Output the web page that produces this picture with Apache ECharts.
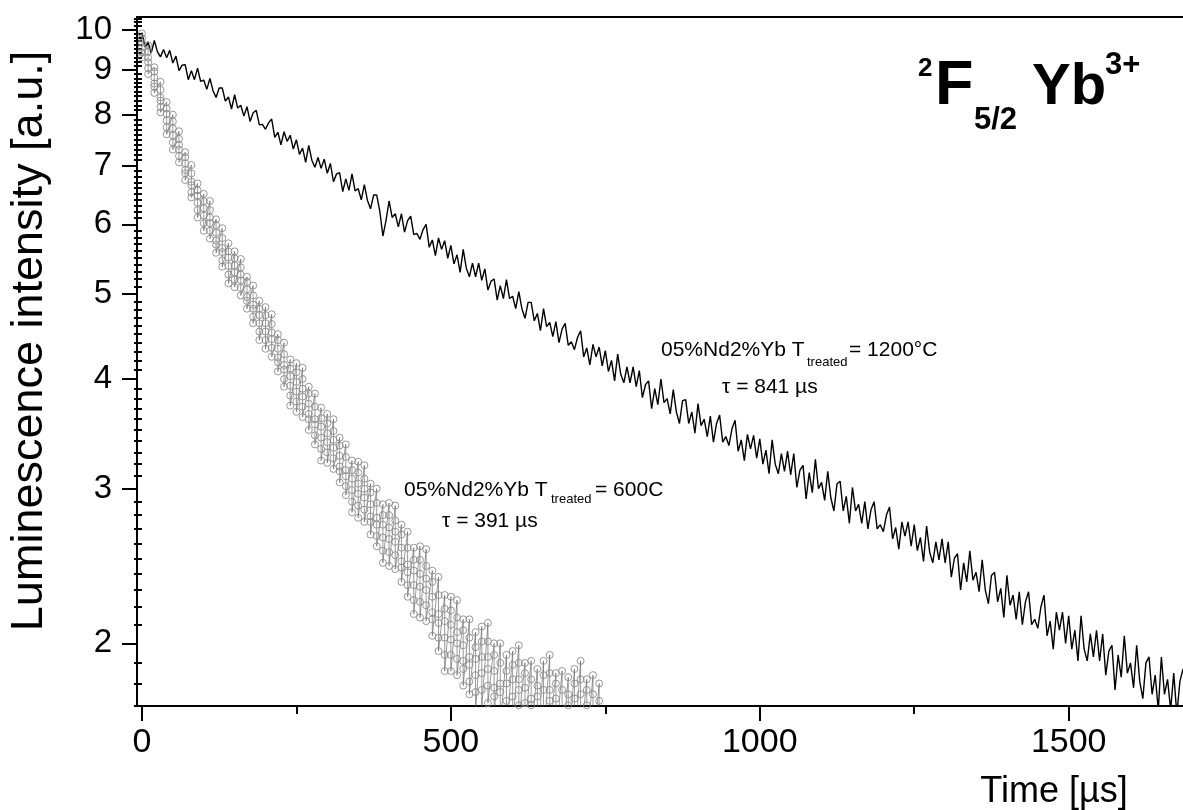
<!DOCTYPE html>
<html><head><meta charset="utf-8">
<script src="https://cdn.jsdelivr.net/npm/echarts@6/dist/echarts.min.js"></script>
<style>html,body{margin:0;padding:0;background:#fff}#c{width:1183px;height:810px}</style>
</head><body><div id="c"></div>
<script>
const FONT = "'Liberation Sans', Arial, Helvetica, sans-serif";

// axes
const xRange = [-8, 1685];
const yRange = [1.697, 10.336];
const xMajorTicks = [0, 500, 1000, 1500];
const xMinorTicks = [250, 750, 1250];
const yMajorTicks = [2, 3, 4, 5, 6, 7, 8, 9, 10];
const yMinorStep = 0.1;

// 1200 C sample, black line, one value every 5 us from t = 0
const line1200Step = 5;
const line1200Values = [
9.92,9.55,9.67,9.40,9.72,9.44,9.31,9.49,9.29,9.47,
9.16,9.33,8.98,9.11,9.12,8.77,8.98,8.77,9.04,8.73,
8.76,8.55,8.80,8.52,8.37,8.58,8.58,8.29,8.38,8.12,
8.43,8.14,8.20,7.97,8.17,7.86,8.04,8.09,7.79,7.80,
7.70,7.83,7.91,7.54,7.64,7.39,7.65,7.46,7.58,7.31,
7.49,7.21,7.33,7.06,7.38,7.10,6.97,7.15,6.95,7.12,
6.86,7.04,6.71,6.85,6.87,6.54,6.76,6.56,6.85,6.55,
6.59,6.40,6.66,6.39,6.25,6.48,6.48,6.21,5.82,6.06,
6.38,6.11,6.17,5.96,6.17,5.88,6.06,6.13,5.84,5.86,
5.77,5.92,6.00,5.65,5.76,5.53,5.79,5.62,5.75,5.49,
5.68,5.41,5.54,5.29,5.62,5.35,5.23,5.42,5.23,5.42,
5.18,5.34,5.05,5.17,5.20,4.92,5.11,4.94,5.19,4.94,
4.97,4.81,5.03,4.81,4.69,4.89,4.89,4.66,4.75,4.54,
4.81,4.59,4.64,4.47,4.65,4.40,4.56,4.63,4.37,4.41,
4.32,4.46,4.54,4.24,4.34,4.15,4.38,4.24,4.35,4.14,
4.31,4.08,4.20,3.98,4.27,4.05,3.96,4.13,3.96,4.13,
3.92,4.09,3.81,3.94,3.98,3.70,3.90,3.74,4.00,3.76,
3.80,3.65,3.89,3.67,3.56,3.78,3.79,3.56,3.67,3.47,
3.75,3.54,3.60,3.44,3.63,3.39,3.56,3.64,3.39,3.44,
3.36,3.51,3.59,3.31,3.41,3.23,3.46,3.33,3.45,3.25,
3.42,3.20,3.32,3.12,3.41,3.20,3.12,3.29,3.14,3.31,
3.11,3.29,3.01,3.15,3.19,2.92,3.13,2.97,3.24,3.00,
3.05,2.91,3.14,2.93,2.83,3.04,3.06,2.83,2.94,2.74,
3.01,2.83,2.88,2.74,2.90,2.70,2.84,2.90,2.70,2.73,
2.68,2.80,2.86,2.63,2.71,2.56,2.75,2.65,2.75,2.58,
2.73,2.55,2.64,2.48,2.72,2.54,2.47,2.61,2.49,2.63,
2.47,2.61,2.38,2.50,2.53,2.30,2.47,2.35,2.55,2.36,
2.41,2.29,2.49,2.30,2.22,2.39,2.41,2.23,2.31,2.14,
2.39,2.21,2.27,2.13,2.29,2.10,2.23,2.29,2.10,2.13,
2.08,2.20,2.27,2.04,2.12,1.97,2.17,2.07,2.17,2.00,
2.15,1.97,2.07,1.91,2.15,1.97,1.91,2.05,1.93,2.07,
1.91,2.05,1.84,1.96,1.99,1.77,1.94,1.83,2.04,1.85,
1.90,1.78,1.99,1.81,1.73,1.90,1.93,1.75,1.84,1.68,
1.93,1.75,1.82,1.68,1.85,1.66,1.81,1.87
];

// 600 C sample, open circles: time of each column and the values read in it
const circles600Times = [
0,10,20,30,40,50,60,70,80,90,100,110,120,130,140,150,160,170,180,190,
200,210,220,230,240,250,260,270,280,290,300,310,320,330,340,350,360,370,380,390,
400,410,420,430,440,450,460,470,480,490,500,510,520,530,540,550,560,570,580,590,
600,610,620,630,640,650,660,670,680,690,700,710,720,730,740
];
const circles600Values = [
[9.90,9.78,9.66,9.54,9.42,9.30],[9.60,9.43,9.29,9.18,9.04,8.90],[9.06,8.96,8.82,8.68,8.61,8.47],
[8.72,8.54,8.37,8.30,8.16,8.05],[8.27,8.13,8.02,7.88,7.74,7.60],[8.00,7.86,7.72,7.58,7.44,7.30],
[7.66,7.51,7.39,7.30,7.18,7.06],[7.25,7.16,7.04,6.92,6.86,6.74],[7.01,6.86,6.71,6.65,6.53,6.44],
[6.68,6.56,6.47,6.35,6.23,6.11],[6.50,6.38,6.26,6.14,6.02,5.90],[6.38,6.23,6.11,6.02,5.90,5.78],
[6.08,5.99,5.87,5.75,5.69,5.57],[5.94,5.79,5.64,5.58,5.46,5.37],[5.71,5.59,5.50,5.38,5.26,5.14],
[5.59,5.49,5.39,5.29,5.19,5.09],[5.48,5.36,5.26,5.18,5.08,4.98],[5.23,5.16,5.06,4.96,4.91,4.81],
[5.11,4.98,4.86,4.81,4.71,4.63],[4.91,4.81,4.73,4.63,4.53,4.43],[4.83,4.73,4.63,4.53,4.43,4.33],
[4.74,4.62,4.52,4.44,4.34,4.24],[4.50,4.43,4.33,4.23,4.18,4.08],[4.40,4.27,4.15,4.10,4.00,3.92],
[4.21,4.11,4.03,3.93,3.83,3.73],[4.17,4.07,3.97,3.87,3.77,3.67],[4.12,4.00,3.90,3.82,3.72,3.62],
[3.92,3.85,3.75,3.65,3.60,3.50],[3.85,3.72,3.60,3.55,3.45,3.37],[3.71,3.61,3.53,3.43,3.33,3.23],
[3.65,3.56,3.47,3.39,3.30,3.21],[3.60,3.49,3.41,3.34,3.25,3.16],[3.43,3.36,3.27,3.18,3.14,3.05],
[3.37,3.26,3.15,3.10,3.02,2.95],[3.23,3.15,3.08,2.99,2.90,2.82],[3.22,3.13,3.04,2.96,2.87,2.78],
[3.19,3.08,3.00,2.93,2.84,2.75],[3.04,2.97,2.88,2.79,2.75,2.66],[3.00,2.89,2.78,2.73,2.65,2.58],
[2.88,2.80,2.73,2.64,2.55,2.47],[2.89,2.80,2.71,2.63,2.54,2.45],[2.87,2.76,2.68,2.61,2.52,2.43],
[2.73,2.66,2.57,2.48,2.44,2.35],[2.68,2.57,2.46,2.41,2.33,2.26],[2.57,2.49,2.42,2.33,2.24,2.16],
[2.58,2.49,2.40,2.32,2.23,2.14],[2.56,2.45,2.37,2.30,2.21,2.12],[2.42,2.35,2.26,2.17,2.13,2.04],
[2.38,2.27,2.16,2.11,2.03,1.96],[2.27,2.19,2.12,2.03,1.94,1.86],[2.26,2.18,2.10,2.02,1.94,1.86],
[2.24,2.14,2.06,2.00,1.92,1.84],[2.13,2.07,1.99,1.91,1.87,1.79],[2.13,2.03,1.93,1.89,1.81,1.75],
[2.06,1.98,1.92,1.84,1.76,1.68],[2.09,2.01,1.93,1.85,1.77,1.69],[2.11,2.01,1.93,1.87,1.79,1.71],
[2.00,1.94,1.86,1.78,1.74,1.66],[2.00,1.90,1.80,1.76,1.68,1.62],[1.94,1.86,1.80,1.72,1.64,1.56],
[1.96,1.89,1.82,1.74,1.67,1.60],[1.99,1.90,1.82,1.77,1.70,1.63],[1.90,1.85,1.78,1.71,1.67,1.60],
[1.91,1.82,1.73,1.70,1.62,1.57],[1.87,1.79,1.74,1.67,1.60,1.52],[1.91,1.84,1.77,1.69,1.62,1.55],
[1.94,1.85,1.77,1.72,1.65,1.58],[1.85,1.80,1.73,1.66,1.62,1.55],[1.86,1.77,1.68,1.65,1.57,1.52],
[1.83,1.75,1.70,1.63,1.56,1.48],[1.87,1.80,1.73,1.65,1.58,1.51],[1.91,1.82,1.75,1.69,1.62,1.55],
[1.82,1.77,1.70,1.63,1.59,1.52],[1.84,1.75,1.66,1.63,1.55,1.50],[1.80,1.72,1.67,1.60,1.53,1.45]
];

const lg = v => Math.log10(v);
const lineData = line1200Values.map((v, i) => [i * line1200Step, lg(v)]);
const circData = [];
circles600Times.forEach((t, i) => circles600Values[i].forEach(v => circData.push([t, lg(v)])));
const yMajorLog = yMajorTicks.map(lg);
const yMinorLog = [];
for (let k = 17; k <= 103; k++) { if (k % 10 !== 0) yMinorLog.push(lg(k * yMinorStep)); }

const chart = echarts.init(document.getElementById('c'), null, {renderer: 'canvas'});
const axisCommon = {min: xRange[0], max: xRange[1], type: 'value', splitLine: {show: false}};
const txt = (x, y, text, size, extra) => ({type: 'text', x: x, y: y,
  style: Object.assign({text: text, fontSize: size, fontFamily: FONT, fill: '#000', align: 'left', verticalAlign: 'middle'}, extra || {})});
chart.setOption({
  animation: false,
  backgroundColor: '#fff',
  grid: {left: 137, right: 0, top: 17, bottom: 104, containLabel: false},
  xAxis: [
    Object.assign({}, axisCommon, {
      position: 'bottom',
      axisLine: {show: true, onZero: false, lineStyle: {color: '#000', width: 2}},
      axisTick: {show: true, customValues: xMajorTicks, length: 15, inside: false, lineStyle: {color: '#000', width: 2}},
      axisLabel: {customValues: xMajorTicks, color: '#000', fontSize: 34, fontFamily: FONT, margin: 20,
        formatter: v => String(Math.round(v))}
    }),
    Object.assign({}, axisCommon, {
      position: 'bottom',
      axisLine: {show: false},
      axisTick: {show: true, customValues: xMinorTicks, length: 8, inside: false, lineStyle: {color: '#000', width: 2}},
      axisLabel: {show: false}
    }),
    Object.assign({}, axisCommon, {
      position: 'top',
      axisLine: {show: true, onZero: false, lineStyle: {color: '#000', width: 2}},
      axisTick: {show: false},
      axisLabel: {show: false}
    })
  ],
  yAxis: [
    {
      type: 'value', position: 'left', min: lg(yRange[0]), max: lg(yRange[1]),
      splitLine: {show: false},
      axisLine: {show: true, onZero: false, lineStyle: {color: '#000', width: 2}},
      axisTick: {show: true, customValues: yMajorLog, length: 15, inside: false, lineStyle: {color: '#000', width: 2}},
      axisLabel: {customValues: yMajorLog, color: '#000', fontSize: 33, fontFamily: FONT, margin: 25,
        formatter: v => String(Math.round(Math.pow(10, v)))}
    },
    {
      type: 'value', position: 'left', min: lg(yRange[0]), max: lg(yRange[1]),
      splitLine: {show: false},
      axisLine: {show: false},
      axisTick: {show: true, customValues: yMinorLog, length: 8, inside: false, lineStyle: {color: '#000', width: 2}},
      axisLabel: {show: false}
    }
  ],
  series: [
    {
      type: 'line', name: '1200C', data: lineData, xAxisIndex: 0, yAxisIndex: 0,
      showSymbol: false, symbol: 'none', clip: true, z: 3,
      lineStyle: {color: '#000', width: 1.4}
    },
    {
      type: 'line', name: '600C', data: circData, xAxisIndex: 0, yAxisIndex: 0,
      symbol: 'circle', symbolSize: 7, showSymbol: true, showAllSymbol: true, clip: true, z: 4,
      itemStyle: {color: 'rgba(255,255,255,0)', borderColor: '#8a8a8a', borderWidth: 0.9},
      lineStyle: {color: '#555', width: 0.6}
    }
  ],
  graphic: [
    {type: 'text', x: 30, y: 341, rotation: Math.PI / 2,
      style: {text: 'Luminescence intensity [a.u.]', fontSize: 45, fontFamily: FONT, fill: '#000', align: 'center', verticalAlign: 'middle'}},
    txt(1054, 792, 'Time [\u00b5s]', 36, {align: 'center'}),
    // title 2F5/2 Yb3+
    txt(918, 69, '2', 26, {fontWeight: 'bold'}),
    txt(935, 87, 'F', 63, {fontWeight: 'bold'}),
    txt(974, 120, '5/2', 31, {fontWeight: 'bold'}),
    txt(1032, 88, 'Yb', 58, {fontWeight: 'bold'}),
    txt(1105, 65, '3+', 31, {fontWeight: 'bold'}),
    // annotation 600 C
    txt(404, 490, '05%Nd2%Yb T', 21),
    txt(551, 499, 'treated', 13),
    txt(595, 490, '= 600C', 21),
    txt(442, 521, '\u03c4 = 391 \u00b5s', 21),
    // annotation 1200 C
    txt(661, 350, '05%Nd2%Yb T', 21),
    txt(807, 362, 'treated', 13),
    txt(849, 350, '= 1200\u00b0C', 21),
    txt(722, 387, '\u03c4 = 841 \u00b5s', 21)
  ]
});
</script>
</body></html>
